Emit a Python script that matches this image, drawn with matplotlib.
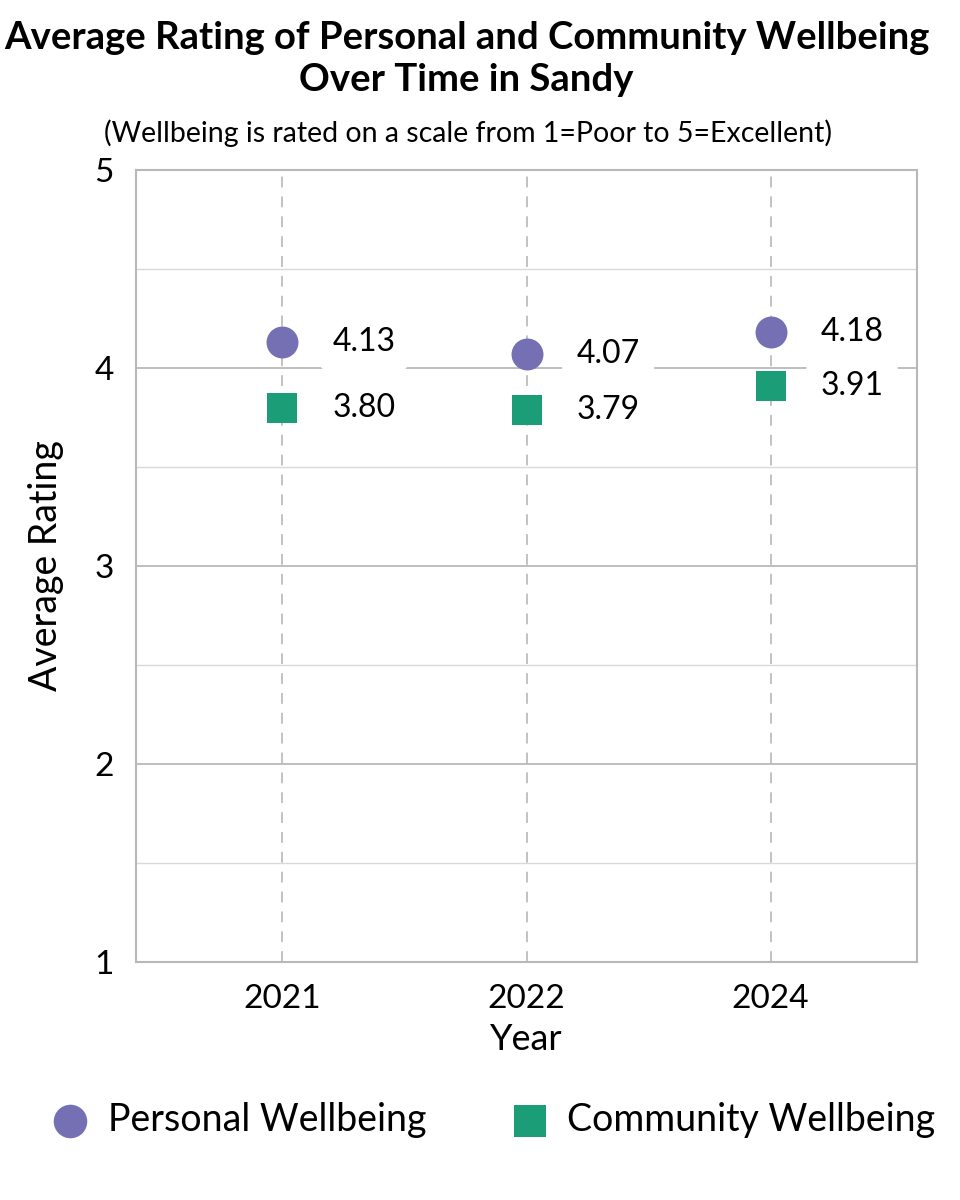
import matplotlib
matplotlib.use("Agg")
import matplotlib.pyplot as plt
import numpy as np

years = ["2021", "2022", "2024"]
personal = [4.13, 4.07, 4.18]
community = [3.80, 3.79, 3.91]
y_ticks = [1, 2, 3, 4, 5]

purple = "#7570b3"
green = "#1b9e77"

plt.rcParams['font.family'] = ['Lato', 'DejaVu Sans']

fig = plt.figure(figsize=(9.6, 12), dpi=100)
ax = fig.add_axes([136/960, 1-962/1200, (917-136)/960, (962-170)/1200])

x = np.arange(len(years))
ax.set_xlim(-0.6, len(years)-1+0.6)
ax.set_ylim(1, 5)
ax.set_yticks(y_ticks)
ax.set_yticks(np.arange(1.5, 5, 1.0), minor=True)
ax.tick_params(axis='y', which='minor', length=0)
ax.set_xticks(x)
ax.set_xticklabels(years)
ax.tick_params(axis='both', which='major', length=0, labelsize=24)
ax.tick_params(axis='y', pad=16)
ax.tick_params(axis='x', pad=16)

ax.grid(axis='y', which='major', color='#b3b3b3', linewidth=1.2, zorder=0)
ax.grid(axis='y', which='minor', color='#d9d9d9', linewidth=1.0, zorder=0)
ax.grid(axis='x', which='major', color='#bdbdbd', linewidth=1.3, linestyle=(0, (6, 5)), zorder=0)
ax.set_axisbelow(True)
for s in ax.spines.values():
    s.set_color('#b8b8b8')
    s.set_linewidth(1.5)

ax.scatter(x, personal, s=23**2, marker='o', color=purple, zorder=4, label='Personal Wellbeing', linewidths=0)
ax.scatter(x, community, s=21.5**2, marker='s', color=green, zorder=4, label='Community Wellbeing', linewidths=0)

for xi, v in zip(x, personal):
    ax.annotate(f"{v:.2f}", (xi, v), xytext=(36, 0), textcoords='offset points',
                ha='left', va='center', fontsize=23, zorder=3,
                bbox=dict(boxstyle='round,pad=0.45', fc='white', ec='none'))
for xi, v in zip(x, community):
    ax.annotate(f"{v:.2f}", (xi, v), xytext=(36, 0), textcoords='offset points',
                ha='left', va='center', fontsize=23, zorder=3,
                bbox=dict(boxstyle='round,pad=0.45', fc='white', ec='none'))

ax.set_xlabel("Year", fontsize=26, labelpad=6)
ax.set_ylabel("Average Rating", fontsize=27, labelpad=22)

fig.text(0.486, 1-59/1200, "Average Rating of Personal and Community Wellbeing\nOver Time in Sandy",
         ha='center', va='center', fontsize=27.5, fontweight='bold', linespacing=1.32)
fig.text(0.487, 1-133/1200, "(Wellbeing is rated on a scale from 1=Poor to 5=Excellent)",
         ha='center', va='center', fontsize=20.5)

fig.legend(loc='center', bbox_to_anchor=(0.514, 1-1120/1200), ncol=2, frameon=False,
           fontsize=27, handlelength=1.0, handletextpad=0.5, columnspacing=2.27,
           markerscale=1.05, borderpad=0, borderaxespad=0)

fig.savefig("out.png", dpi=100)
